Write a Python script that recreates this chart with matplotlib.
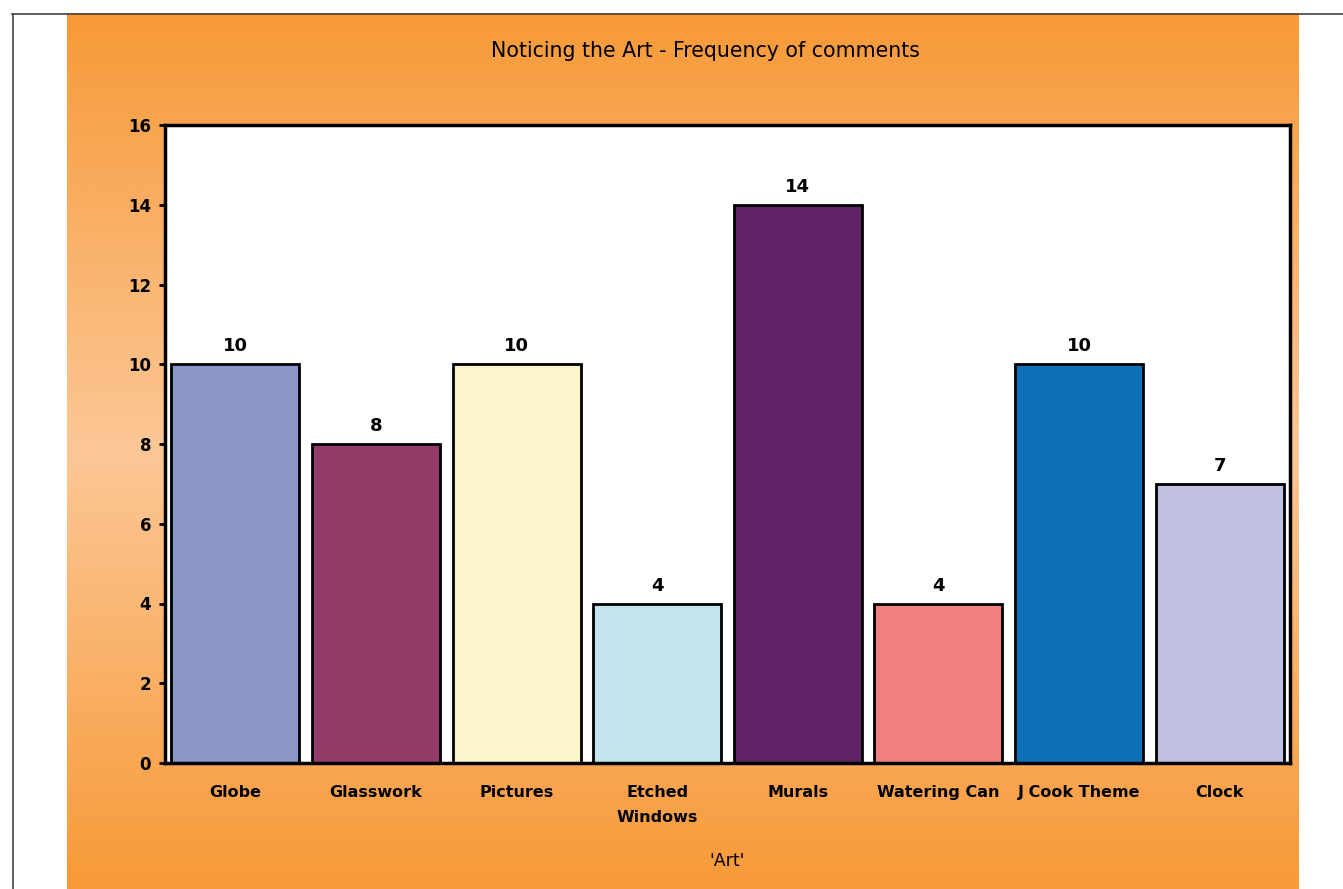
import numpy as np
import matplotlib
matplotlib.use("Agg")
import matplotlib.pyplot as plt
from matplotlib.colors import LinearSegmentedColormap

categories = ["Globe", "Glasswork", "Pictures", "Etched\nWindows", "Murals",
              "Watering Can", "J Cook Theme", "Clock"]
counts = [10, 8, 10, 4, 14, 4, 10, 7]
bar_colors = ["#8A95C8", "#943A68", "#FAF5CD", "#C5E5EE", "#5F2264",
              "#F08080", "#0D6FB8", "#C0C1E0"]
y_ticks = [0, 2, 4, 6, 8, 10, 12, 14, 16]

W, H = 1343, 889
fig = plt.figure(figsize=(W / 100, H / 100), dpi=100)
fig.patch.set_facecolor("white")

def fx(px):
    return px / W

def fy(py):
    return 1 - py / H

# page frame lines (top and left)
fig.add_artist(plt.Line2D([fx(12), 1.0], [fy(13.5), fy(13.5)], color="#444444", lw=1.2))
fig.add_artist(plt.Line2D([fx(12.5), fx(12.5)], [fy(13.5), 0], color="#444444", lw=1.2))

# orange gradient panel
bg = fig.add_axes([fx(67), 0, fx(1299 - 67), fy(13)])
bg.set_axis_off()
grad_cmap = LinearSegmentedColormap.from_list(
    "panel", [(0.0, "#F79A38"), (0.5, "#FCC797"), (1.0, "#F79A38")])
t = np.linspace(0, 1, 400).reshape(-1, 1)
bg.imshow(t, aspect="auto", cmap=grad_cmap, extent=[0, 1, 0, 1], origin="upper")
bg.set_xlim(0, 1)
bg.set_ylim(0, 1)

# plot area
ax = fig.add_axes([fx(165), fy(763), fx(1290 - 165), (763 - 125) / H])
ax.set_facecolor("white")
x = np.arange(len(categories))
bars = ax.bar(x, counts, width=0.91, color=bar_colors, edgecolor="black", linewidth=2)
ax.set_xlim(-0.5, len(categories) - 0.5)
ax.set_ylim(0, 16)
ax.set_yticks(y_ticks)
ax.set_yticklabels([str(v) for v in y_ticks], fontsize=12, fontweight="bold")
ax.set_xticks(x)
ax.set_xticklabels(categories, fontsize=11.5, fontweight="bold", linespacing=1.9)
ax.tick_params(axis="x", length=0, pad=15.5)
ax.tick_params(axis="y", length=4, width=2, pad=6)
for s in ax.spines.values():
    s.set_linewidth(2.5)
    s.set_color("black")

for xi, v in zip(x, counts):
    ax.text(xi, v + 0.22, str(v), ha="center", va="bottom", fontsize=13, fontweight="bold")

fig.text(fx(705), fy(51), "Noticing the Art - Frequency of comments",
         ha="center", va="center", fontsize=14.8)
fig.text(fx(727), fy(861), "'Art'", ha="center", va="center", fontsize=12.5)

fig.savefig("out.png", dpi=100)
